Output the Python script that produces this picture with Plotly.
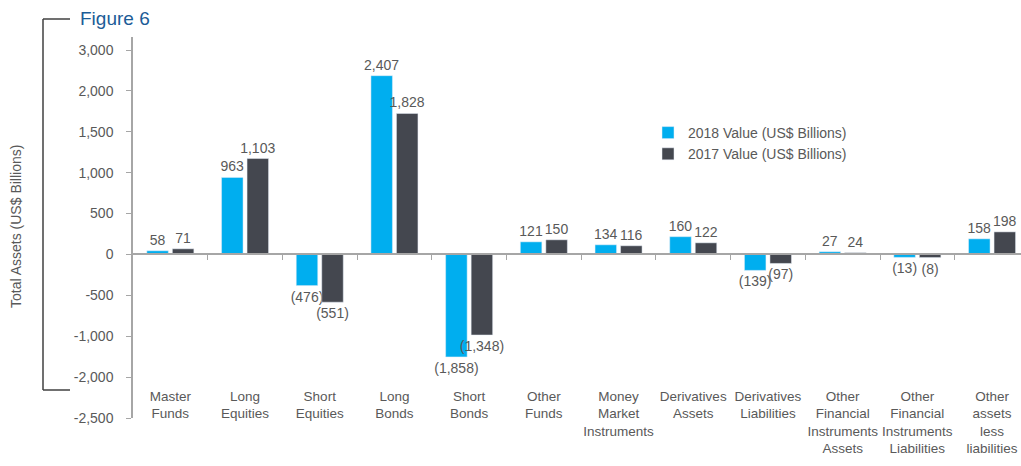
import plotly.graph_objects as go

categories = ["Master<br>Funds", "Long<br>Equities", "Short<br>Equities", "Long<br>Bonds",
              "Short<br>Bonds", "Other<br>Funds", "Money<br>Market<br>Instruments",
              "Derivatives<br>Assets", "Derivatives<br>Liabilities",
              "Other<br>Financial<br>Instruments<br>Assets",
              "Other<br>Financial<br>Instruments<br>Liabilities",
              "Other<br>assets<br>less<br>liabilities"]

# bar heights as drawn against the axis
values_2018 = [45, 942, -381, 2186, -1253, 154, 118, 217, -195, 33, -36, 191]
values_2017 = [69, 1173, -584, 1724, -985, 179, 106, 142, -110, 21, -38, 276]

# data labels as printed
labels_2018 = ["58", "963", "(476)", "2,407", "(1,858)", "121", "134", "160", "(139)", "27", "(13)", "158"]
labels_2017 = ["71", "1,103", "(551)", "1,828", "(1,348)", "150", "116", "122", "(97)", "24", "(8)", "198"]

# y tick positions and the labels printed there
ytick_vals = [2500, 2000, 1500, 1000, 500, 0, -500, -1000, -1500, -2000]
ytick_text = ["3,000", "2,000", "1,500", "1,000", "500", "0", "-500", "-1,000", "-2,000", "-2,500"]

BLUE = "#00AEEF"
DARK = "#44474F"
TXT = "#595959"
FONT = "Liberation Sans, Arial, sans-serif"
FS = 14

W, H = 1021, 466
L, T = 133, 37
BOT = 418
R, B = 0, H - BOT
pw, ph = W - L - R, H - T - B

n = len(categories)
xs = list(range(n))
yr = [-2000, 2659]
xr = [-0.5, -0.5 + pw / 74.7]


def px_x(x):
    return (x - L) / pw


def px_y(y):
    return (BOT - y) / ph


fig = go.Figure()
fig.add_trace(go.Bar(x=xs, y=values_2018, name="2018 Value (US$ Billions)", marker_color=BLUE,
                     text=labels_2018, textposition="outside", cliponaxis=False,
                     constraintext="none", textfont=dict(family=FONT, size=FS, color=TXT),
                     hoverinfo="skip"))
fig.add_trace(go.Bar(x=xs, y=values_2017, name="2017 Value (US$ Billions)", marker_color=DARK,
                     text=labels_2017, textposition="outside", cliponaxis=False,
                     constraintext="none", textfont=dict(family=FONT, size=FS, color=TXT),
                     hoverinfo="skip"))
# invisible helper so the category-label axis is drawn
fig.add_trace(go.Scatter(x=xs, y=[0] * n, xaxis="x2", mode="markers",
                         marker=dict(opacity=0), showlegend=False, hoverinfo="skip"))

zero_pos = (0 - yr[0]) / (yr[1] - yr[0])

fig.update_layout(
    width=W, height=H,
    margin=dict(l=L, r=R, t=T, b=B, autoexpand=False),
    paper_bgcolor="white", plot_bgcolor="white",
    barmode="group", bargap=0.317, bargroupgap=0.157,
    font=dict(family=FONT, size=FS, color=TXT),
    title=dict(text="Figure 6", x=80 / W, xanchor="left", y=1 - 18 / H,
               yanchor="middle",
               font=dict(family=FONT, size=19, color="#1B5C97")),
    xaxis=dict(range=xr, anchor="free", position=zero_pos, showline=True, linecolor="#A6A6A6",
               linewidth=1.5, tickmode="array", tickvals=[i + 0.5 for i in range(n - 1)],
               ticks="outside", ticklen=5, tickcolor="#A6A6A6", showticklabels=False,
               showgrid=False, zeroline=False, fixedrange=True),
    xaxis2=dict(range=xr, overlaying="x", anchor="free", position=px_y(386), showline=False,
                tickmode="array", tickvals=xs, ticktext=categories, ticks="", tickangle=0,
                ticklabeloverflow="allow",
                showgrid=False, zeroline=False, tickfont=dict(family=FONT, size=13.5, color=TXT)),
    yaxis=dict(range=yr, tickmode="array", tickvals=ytick_vals, ticktext=ytick_text,
               showline=True, linecolor="#A6A6A6", linewidth=1.5, ticks="outside", ticklen=5,
               tickcolor="#A6A6A6", showgrid=False, zeroline=False, ticklabelstandoff=10,
               tickfont=dict(family=FONT, size=FS, color=TXT)),
    legend=dict(x=px_x(648), y=px_y(117), xanchor="left", yanchor="top", bgcolor="rgba(0,0,0,0)",
                font=dict(family=FONT, size=FS, color=TXT), itemwidth=30, tracegroupgap=0),
    showlegend=True,
)

fig.add_annotation(text="Total Assets (US$ Billions)", textangle=-90, xref="paper", yref="paper",
                   x=px_x(16), y=px_y(227), xanchor="center", yanchor="middle", showarrow=False,
                   font=dict(family=FONT, size=FS, color=TXT))

# decorative bracket
bx0, bx1 = px_x(43), px_x(70)
by0, by1 = px_y(390), px_y(19)
for x0, y0, x1, y1 in [(bx0, by0, bx0, by1), (bx0, by1, bx1, by1), (bx0, by0, bx1, by0)]:
    fig.add_shape(type="line", xref="paper", yref="paper", x0=x0, y0=y0, x1=x1, y1=y1,
                  line=dict(color="#404040", width=1.5))

fig.write_html("out.html", config={"displayModeBar": False},
               post_script="document.body.style.margin='0';document.body.style.overflow='hidden';")
